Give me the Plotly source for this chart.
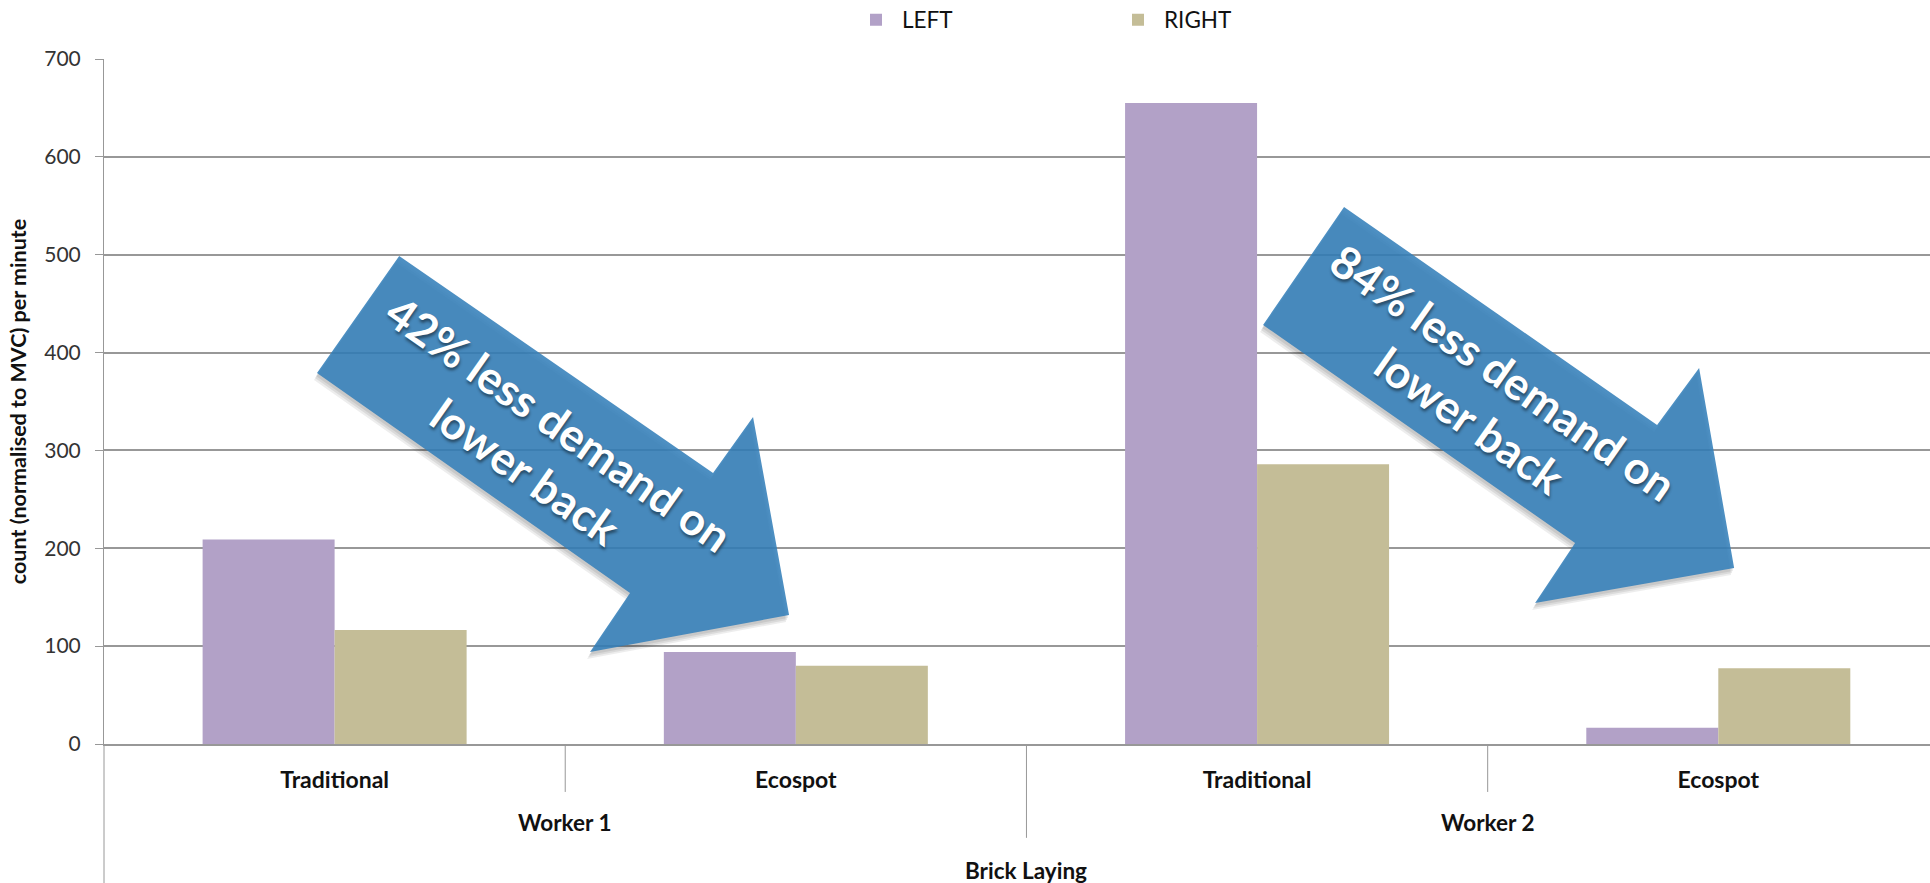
import plotly.graph_objects as go

# ---------------- data ----------------
conditions = ["Traditional", "Ecospot", "Traditional", "Ecospot"]
workers = ["Worker 1", "Worker 2"]
task = "Brick Laying"
left_values = [209, 94, 655, 16.5]
right_values = [116.5, 80, 286, 77.5]
series_names = ["LEFT", "RIGHT"]
y_ticks = [0, 100, 200, 300, 400, 500, 600, 700]
arrow_texts = ["42% less demand on<br>lower back", "84% less demand on<br>lower back"]

# ---------------- style ----------------
FONT = "Lato"
LEFT_COLOR = "#B2A1C7"
RIGHT_COLOR = "#C4BD97"
GRID = "#989898"
positions = list(range(len(conditions)))
X_RANGE = [-0.5, 3.459]
Y_RANGE = [0, 700]


def xp(v):
    """data x -> paper fraction using the axis range"""
    return (v - X_RANGE[0]) / (X_RANGE[1] - X_RANGE[0])


fig = go.Figure()
fig.add_trace(go.Bar(x=positions, y=left_values, name=series_names[0],
                     marker=dict(color=LEFT_COLOR, line=dict(width=0))))
fig.add_trace(go.Bar(x=positions, y=right_values, name=series_names[1],
                     marker=dict(color=RIGHT_COLOR, line=dict(width=0))))

shapes = []
# inner category dividers (short)
for b in [0.5, 2.5]:
    shapes.append(dict(type="line", xref="paper", yref="paper", x0=xp(b), x1=xp(b),
                       y0=0, y1=-0.070, line=dict(color=GRID, width=1)))
# outer (worker) divider
shapes.append(dict(type="line", xref="paper", yref="paper", x0=xp(1.5), x1=xp(1.5),
                   y0=0, y1=-0.137, line=dict(color=GRID, width=1)))
# y axis extension to bottom (task level)
shapes.append(dict(type="line", xref="paper", yref="paper", x0=0, x1=0,
                   y0=0, y1=-0.25, line=dict(color=GRID, width=1)))

# decorative arrows (polygon outline in data coordinates)
arrow_polys = [
    [(0.140, 498.7), (0.8205, 276.9), (0.9072, 334.2), (0.9853, 131.8),
     (0.5538, 94.0), (0.6405, 154.3), (-0.0382, 379.1)],
    [(2.1886, 548.8), (2.8673, 326.0), (2.9584, 384.2), (3.0343, 179.9),
     (2.6028, 144.1), (2.6895, 205.4), (2.0130, 428.2)],
]


def poly_path(pts, dx=0.0, dy=0.0):
    return "M " + " L ".join(f"{x + dx},{y + dy}" for x, y in pts) + " Z"


for pts in arrow_polys:
    for (ox, oy, a) in [(-3, 7, 0.07), (-2, 5, 0.08), (-1, 3, 0.08)]:
        shapes.append(dict(type="path", xref="x", yref="y",
                           path=poly_path(pts, ox / 461.2, -oy / 0.97857),
                           fillcolor=f"rgba(0,0,0,{a})", line=dict(width=0), layer="above"))
    shapes.append(dict(type="path", xref="x", yref="y", path=poly_path(pts),
                       fillcolor="rgba(52,128,186,0.88)", line=dict(width=0), layer="above"))

annotations = []
for i, w in enumerate(workers):
    annotations.append(dict(text=f"<b>{w}</b>", xref="paper", yref="paper",
                            x=xp(2 * i + 0.5), y=-0.1153, showarrow=False,
                            xanchor="center", yanchor="middle",
                            font=dict(family=FONT, size=22.5, color="#111")))
annotations.append(dict(text=f"<b>{task}</b>", xref="paper", yref="paper",
                        x=xp(1.5), y=-0.184, showarrow=False,
                        xanchor="center", yanchor="middle",
                        font=dict(family=FONT, size=22.5, color="#111")))
arrow_text_pos = [(0.4497, 303.5), (2.4976, 355.1)]
for (tx, ty), t in zip(arrow_text_pos, arrow_texts):
    annotations.append(dict(text=f"<b>{t}</b>", xref="x", yref="y", x=tx, y=ty,
                            showarrow=False, textangle=35, xanchor="center", yanchor="middle",
                            font=dict(family=FONT, size=45, color="white",
                                      shadow="2px 2px 3px rgba(0,0,0,0.45)")))

fig.update_layout(
    width=1930, height=883,
    margin=dict(l=104, r=0, t=59, b=139, pad=0),
    paper_bgcolor="white", plot_bgcolor="white",
    barmode="group", bargap=0.4276, bargroupgap=0,
    font=dict(family=FONT, color="#222"),
    showlegend=True,
    legend=dict(orientation="h", xref="container", yref="container",
                x=850 / 1930, y=1 - 20 / 883, xanchor="left", yanchor="middle",
                font=dict(family=FONT, size=22.5, color="#111"),
                itemwidth=42,
                entrywidth=205, entrywidthmode="pixels",
                bgcolor="rgba(0,0,0,0)", itemclick=False),
    shapes=shapes,
    annotations=annotations,
)

fig.update_xaxes(
    range=X_RANGE, tickmode="array", tickvals=positions,
    ticktext=[f"<b>{c}</b>" for c in conditions],
    ticks="", showgrid=False, zeroline=False,
    showline=True, linecolor=GRID, linewidth=1.5,
    tickfont=dict(family=FONT, size=23, color="#111"),
    ticklabelstandoff=15,
)
fig.update_yaxes(
    range=Y_RANGE, tickmode="array", tickvals=y_ticks,
    ticks="outside", ticklen=8, tickcolor=GRID, tickwidth=1,
    showgrid=True, gridcolor=GRID, gridwidth=1.5, zeroline=False,
    showline=True, linecolor=GRID, linewidth=1,
    tickfont=dict(family=FONT, size=21, color="#333"),
    ticklabelstandoff=10,
    title=dict(text="<b>count (normalised to MVC) per minute</b>",
               font=dict(family=FONT, size=21.5, color="#111"), standoff=11),
)

fig.write_html("out.html")
